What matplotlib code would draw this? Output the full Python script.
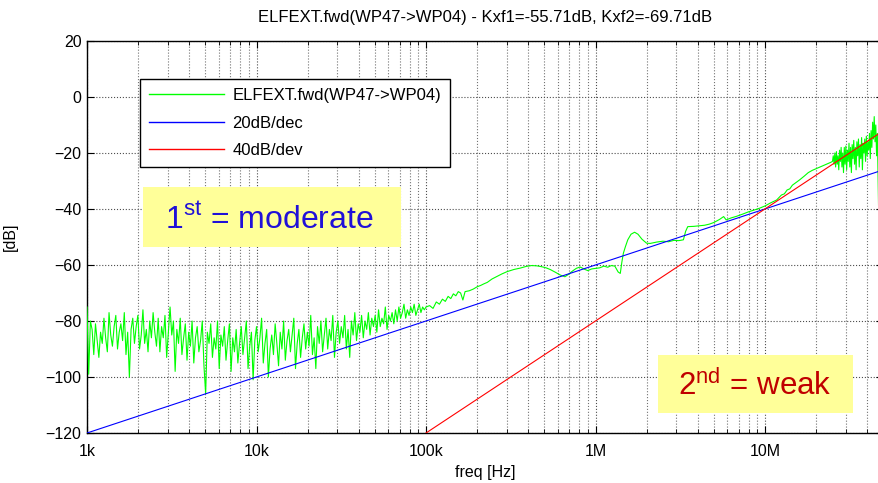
import numpy as np
import matplotlib
matplotlib.use("Agg")
import matplotlib.pyplot as plt
from matplotlib.patches import Rectangle
from matplotlib.ticker import FixedLocator, FixedFormatter, NullFormatter

plt.rcParams['font.family'] = ['Liberation Sans', 'DejaVu Sans']
plt.rcParams['mathtext.fontset'] = 'custom'
plt.rcParams['mathtext.rm'] = 'Liberation Sans'

# ---------------- data ----------------
title = "ELFEXT.fwd(WP47->WP04) - Kxf1=-55.71dB, Kxf2=-69.71dB"
series_names = ["ELFEXT.fwd(WP47->WP04)", "20dB/dec", "40dB/dev"]

# low-frequency noisy part: 1 kHz .. 100 kHz, 100 points/decade sweep
lf_start, lf_stop, lf_n = 1e3, 1e5, 201
lf_db = [
    -75, -99, -80, -83, -92, -81, -87, -93, -84, -88,
    -79, -86, -91, -77, -85, -89, -82, -78, -90, -84,
    -81, -87, -77, -92, -84, -100, -83, -79, -88, -82,
    -78, -90, -85, -76, -88, -83, -91, -80, -86, -77,
    -84, -89, -79, -91, -82, -86, -78, -93, -84, -75,
    -85, -80, -98, -83, -88, -79, -92, -86, -81, -94,
    -84, -89, -80, -95, -86, -82, -91, -87, -80, -96,
    -106, -84, -88, -81, -93, -86, -90, -80, -97, -85,
    -89, -82, -94, -87, -81, -98, -86, -91, -83, -95,
    -88, -82, -92, -86, -80, -97, -89, -84, -101, -87,
    -82, -91, -86, -79, -95, -88, -83, -100, -90, -85,
    -92, -81, -88, -96, -84, -90, -80, -94, -87, -83,
    -91, -85, -79, -97, -88, -83, -93, -86, -81, -90,
    -84, -89, -78, -92, -86, -97, -82, -88, -80, -91,
    -85, -79, -90, -83, -87, -78, -93, -84, -80, -88,
    -82, -86, -78, -90, -83, -93, -80, -85, -77, -87,
    -81, -84, -78, -86, -80, -83, -77, -85, -79, -82,
    -78, -84, -76, -82, -79, -81, -75, -83, -78, -80,
    -77, -81, -76, -80, -75, -79, -77, -74, -79, -76,
    -78, -75, -77, -74, -78, -76, -74, -77, -75, -76,
    -75,
]

# mid-frequency smooth part
mf_f = [1.05e5, 1.1e5, 1.15e5, 1.2e5, 1.25e5, 1.3e5, 1.35e5, 1.4e5, 1.45e5, 1.5e5,
        1.55e5, 1.6e5, 1.65e5, 1.7e5, 1.8e5, 1.9e5, 2.0e5, 2.1e5, 2.2e5, 2.3e5,
        2.45e5, 2.6e5, 2.8e5, 3.0e5, 3.3e5, 3.6e5, 3.9e5, 4.2e5, 4.5e5, 4.8e5,
        5.1e5, 5.4e5, 5.8e5, 6.2e5, 6.6e5, 6.9e5, 7.3e5, 7.7e5, 8.1e5, 8.6e5,
        9.0e5, 9.5e5, 1.0e6, 1.06e6, 1.12e6, 1.18e6, 1.24e6, 1.30e6, 1.36e6, 1.40e6,
        1.43e6, 1.46e6, 1.50e6, 1.55e6, 1.62e6, 1.70e6, 1.78e6, 1.88e6, 2.0e6, 2.1e6,
        2.3e6, 2.5e6, 2.7e6, 2.9e6, 3.1e6, 3.3e6, 3.4e6, 3.5e6, 3.8e6, 4.1e6,
        4.4e6, 4.7e6, 5.0e6, 5.4e6, 5.7e6, 5.9e6, 6.3e6, 6.8e6, 7.4e6, 8.0e6,
        8.6e6, 9.3e6, 1.0e7, 1.08e7, 1.17e7, 1.25e7, 1.3e7, 1.35e7, 1.4e7, 1.45e7,
        1.6e7, 1.7e7, 1.8e7, 1.9e7, 2.02e7, 2.15e7, 2.3e7, 2.45e7]
mf_db = [-74.5, -75.5, -73.2, -74.0, -72.2, -73.0, -71.2, -72.0, -70.3, -71.0,
         -69.5, -70.0, -72.5, -69.5, -69.2, -68.6, -67.8, -67.3, -66.7, -66.2,
         -65.0, -64.2, -63.2, -62.4, -61.6, -61.1, -60.5, -60.2, -60.3, -60.6,
         -61.0, -61.6, -62.6, -63.6, -64.2, -63.4, -62.2, -61.2, -60.7, -61.5,
         -62.0, -61.4, -61.2, -61.0, -60.4, -60.8, -60.2, -60.4, -62.5, -63.0,
         -59.0, -55.8, -53.5, -51.0, -49.0, -48.3, -49.0, -50.8, -52.2, -52.3,
         -51.8, -51.5, -51.7, -51.2, -51.3, -51.0, -48.0, -46.3, -46.2, -46.0,
         -45.8, -45.4, -44.8, -43.7, -42.7, -43.9, -43.2, -42.6, -41.8, -41.0,
         -40.4, -39.7, -38.9, -37.8, -36.8, -35.0, -34.6, -33.2, -32.8, -31.5,
         -29.6, -28.3, -27.0, -26.2, -25.5, -24.8, -24.0, -23.3]

# high-frequency noisy part: 25 MHz .. 47 MHz sweep
hf_start, hf_stop, hf_n = 2.5e7, 4.7e7, 60
hf_db = [-23, -21, -24, -20, -25, -19.5, -24, -21, -26, -19,
         -23, -18, -25, -20, -27, -18, -24, -17.5, -26, -19,
         -23, -16.5, -25, -18, -27, -17, -22, -15.5, -24, -18,
         -26, -16, -21, -15, -25, -17, -22, -14.5, -26, -16.5,
         -20, -15, -23, -14, -21, -16, -19, -13, -22, -12,
         -18, -9, -15, -7, -16, -10, -21, -13, -30, -48]

# asymptote lines
blue_f = [1e3, 5e7]
blue_db = [-120, -26.0]
red_f = [1e5, 5e7]
red_db = [-120, -12.0]

x_ticks = [1e3, 1e4, 1e5, 1e6, 1e7]
x_ticklabels = ["1k", "10k", "100k", "1M", "10M"]
y_ticks = [-120, -100, -80, -60, -40, -20, 0, 20]

# ---------------- figure ----------------
W, H = 879, 483
fig = plt.figure(figsize=(W / 100, H / 100), dpi=100)
ax_l, ax_r, ax_t, ax_b = 87, 883.5, 41, 433
ax = fig.add_axes([ax_l / W, 1 - ax_b / H, (ax_r - ax_l) / W, (ax_b - ax_t) / H])

green_f = np.concatenate([np.logspace(np.log10(lf_start), np.log10(lf_stop), lf_n),
                          np.array(mf_f),
                          np.logspace(np.log10(hf_start), np.log10(hf_stop), hf_n)])
green_db = np.concatenate([np.array(lf_db, float), np.array(mf_db), np.array(hf_db, float)])

ax.plot(green_f, green_db, color='#00FF00', lw=0.8, label=series_names[0], zorder=3)
ax.plot(blue_f, blue_db, color='#0000FF', lw=0.8, label=series_names[1], zorder=3)
ax.plot(red_f, red_db, color='#FF0000', lw=0.8, label=series_names[2], zorder=3)

ax.set_xscale('log')
ax.set_xlim(1e3, 5e7)
ax.set_ylim(-120, 20)
ax.xaxis.set_major_locator(FixedLocator(x_ticks))
ax.xaxis.set_major_formatter(FixedFormatter(x_ticklabels))
ax.xaxis.set_minor_formatter(NullFormatter())
ax.set_yticks(y_ticks)

ax.grid(True, which='major', ls=':', color='0.3', lw=0.8)
ax.grid(True, which='minor', axis='x', ls=':', color='0.45', lw=0.8)
ax.set_axisbelow(True)

ax.tick_params(which='both', direction='in', top=True, right=True, labelsize=11.5, color='black')
ax.tick_params(which='major', length=5, width=0.8)
ax.tick_params(which='minor', length=3, width=0.6)
ax.tick_params(axis='y', pad=4)
ax.tick_params(axis='x', pad=8)
for s in ax.spines.values():
    s.set_linewidth(1.0)

ax.set_title(title, fontsize=12, pad=14)
ax.set_xlabel("freq [Hz]", fontsize=11.5, labelpad=4)
ax.set_ylabel("[dB]", fontsize=11.5, labelpad=20)

leg = ax.legend(loc='upper left',
                bbox_to_anchor=((140 - ax_l) / (ax_r - ax_l), (ax_b - 79) / (ax_b - ax_t)),
                borderaxespad=0, fontsize=12, handlelength=4.5, handletextpad=0.5,
                labelspacing=0.75, borderpad=0.55, fancybox=False, framealpha=1,
                edgecolor='black')
leg.get_frame().set_linewidth(1.0)
for ln in leg.get_lines():
    ln.set_linewidth(1.0)

# annotation boxes
def fig_box(x0, y0, x1, y1):
    r = Rectangle((x0 / W, 1 - y1 / H), (x1 - x0) / W, (y1 - y0) / H,
                  transform=fig.transFigure, facecolor='#FFFF99', edgecolor='none', zorder=5)
    fig.add_artist(r)

fig_box(143, 187, 401, 247)
fig.text(165 / W, 1 - 229 / H, r'1$^{\rm st}$ = moderate', fontsize=23, color='#2010D8',
         ha='left', va='baseline', zorder=6)
fig_box(658, 355, 853, 413)
fig.text(678 / W, 1 - 395 / H, r'2$^{\rm nd}$ = weak', fontsize=22.5, color='#C00000',
         ha='left', va='baseline', zorder=6)

fig.savefig("out.png", dpi=100)
